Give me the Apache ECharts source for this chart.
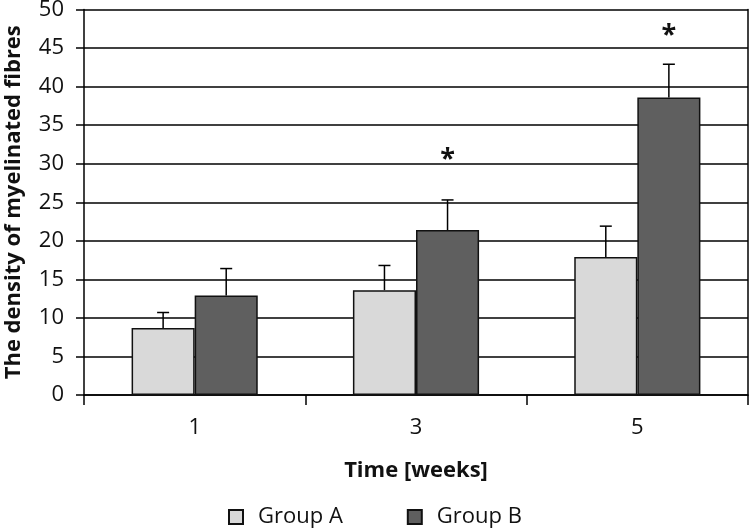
<!DOCTYPE html>
<html><head><meta charset="utf-8">
<script src="https://cdn.jsdelivr.net/npm/echarts@6/dist/echarts.min.js"></script>
<style>html,body{margin:0;padding:0;background:#fff}#c{width:750px;height:531px}</style>
</head><body><div id="c"></div>
<script>
const categories = ['1', '3', '5'];
const groupA = [8.7, 13.6, 17.9];
const groupB = [12.9, 21.4, 38.6];
const sdA = [2.0, 3.2, 4.0];
const sdB = [3.5, 3.9, 4.3];
const starsB = [null, 31.4, 47.4];
const seriesNames = ['Group A', 'Group B'];
const yTicks = [0, 5, 10, 15, 20, 25, 30, 35, 40, 45, 50];

const FONT = 'Open Sans';
const GAP = 0.43;
const half = (1 - GAP) / 2; // width of a single bar as fraction of band

function errItem(offsetSign) {
  return function (params, api) {
    const i = api.value(0);
    const v = api.value(1), sd = api.value(2);
    const band = api.size([1, 0])[0];
    const c = api.coord([i, v]);
    const top = api.coord([i, v + sd]);
    const x = c[0] + offsetSign * band * half / 2;
    const cap = 6;
    const st = { stroke: '#000', lineWidth: 1.5 };
    return { type: 'group', children: [
      { type: 'line', shape: { x1: x, y1: c[1], x2: x, y2: top[1] }, style: st },
      { type: 'line', shape: { x1: x - cap, y1: top[1], x2: x + cap, y2: top[1] }, style: st }
    ]};
  };
}

const chart = echarts.init(document.getElementById('c'), null, { renderer: 'canvas' });
chart.setOption({
  animation: false,
  textStyle: { fontFamily: FONT, color: '#111' },
  grid: { left: 84, right: 2, top: 9.5, bottom: 136, containLabel: false, outerBoundsMode: 'none' },
  legend: {
    bottom: 3, left: 228, padding: 0, itemWidth: 14, itemHeight: 14, itemGap: 64,
    icon: 'rect',
    data: seriesNames,
    textStyle: { fontFamily: FONT, fontSize: 22, color: '#111', padding: [0, 0, 0, 10] }
  },
  xAxis: {
    type: 'category', data: categories,
    name: 'Time [weeks]', nameLocation: 'middle', nameGap: 65,
    nameTextStyle: { fontFamily: FONT, fontSize: 22, fontWeight: 'bold', color: '#111' },
    axisLine: { lineStyle: { color: '#000', width: 1.5 } },
    axisTick: { show: true, length: 10, lineStyle: { color: '#000', width: 1.5 } },
    axisLabel: { fontFamily: FONT, fontSize: 22, color: '#111', margin: 22 }
  },
  yAxis: [{
    type: 'value', min: yTicks[0], max: yTicks[yTicks.length - 1], interval: 5,
    name: 'The density of myelinated fibres', nameLocation: 'middle', nameGap: 59,
    nameTextStyle: { fontFamily: FONT, fontSize: 22, fontWeight: 'bold', color: '#111' },
    axisLine: { show: true, lineStyle: { color: '#000', width: 1.5 } },
    axisTick: { show: true, length: 8, lineStyle: { color: '#000', width: 1.5 } },
    axisLabel: { fontFamily: FONT, fontSize: 22, color: '#111', margin: 20 },
    splitLine: { show: true, lineStyle: { color: '#000', width: 1.5 } }
  }, {
    type: 'value', min: yTicks[0], max: yTicks[yTicks.length - 1], interval: 5, position: 'right',
    axisLine: { show: true, lineStyle: { color: '#000', width: 1.5 } },
    axisTick: { show: false }, axisLabel: { show: false }, splitLine: { show: false }
  }],
  series: [
    { name: seriesNames[0], type: 'bar', data: groupA, barGap: '0%', barCategoryGap: (GAP * 100) + '%',
      itemStyle: { color: '#d9d9d9', borderColor: '#111', borderWidth: 1.5 } },
    { name: seriesNames[1], type: 'bar', data: groupB, barGap: '0%', barCategoryGap: (GAP * 100) + '%',
      itemStyle: { color: '#5f5f5f', borderColor: '#111', borderWidth: 1.5 } },
    { type: 'custom', renderItem: errItem(-1), z: 5,
      data: groupA.map((v, i) => [i, v, sdA[i]]), encode: { x: 0, y: [1] } },
    { type: 'custom', renderItem: errItem(1), z: 5,
      data: groupB.map((v, i) => [i, v, sdB[i]]), encode: { x: 0, y: [1] } },
    { type: 'custom', z: 6,
      renderItem: function (params, api) {
        const i = api.value(0), v = api.value(1);
        const band = api.size([1, 0])[0];
        const c = api.coord([i, v]);
        return { type: 'text', x: c[0] + band * half / 2, y: c[1] + 6,
          style: { text: '*', fontFamily: FONT, fontSize: 27, fontWeight: 'bold', fill: '#111',
                   align: 'center', verticalAlign: 'middle' } };
      },
      data: starsB.map((v, i) => [i, v]).filter(d => d[1] !== null), encode: { x: 0, y: 1 } }
  ]
});
</script></body></html>
